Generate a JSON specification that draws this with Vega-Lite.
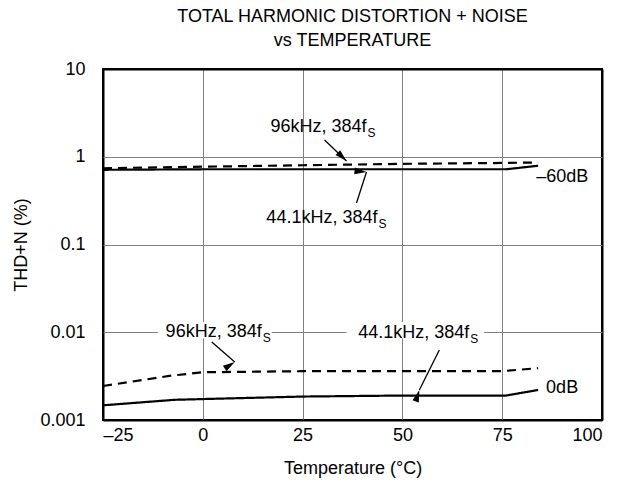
{
  "$schema": "https://vega.github.io/schema/vega-lite/v6.json",
  "width": 499,
  "height": 351,
  "autosize": {"type": "none"},
  "padding": {"left": 103, "top": 69, "right": 16, "bottom": 73},
  "background": "white",
  "config": {
    "font": "Liberation Sans",
    "view": {"stroke": "black", "strokeWidth": 2},
    "axis": {
      "grid": true,
      "gridOpacity": 1,
      "domain": false,
      "ticks": false,
      "tickSize": 0,
      "labelFontSize": 18,
      "labelColor": "black",
      "titleFontSize": 18,
      "titleFontWeight": "normal",
      "titleColor": "black"
    }
  },
  "title": {
    "text": ["TOTAL HARMONIC DISTORTION + NOISE", "vs TEMPERATURE"],
    "fontSize": 18,
    "fontWeight": "normal",
    "color": "black",
    "anchor": "middle",
    "lineHeight": 24,
    "offset": 10
  },
  "datasets": {
    "curves": [
      {"level": "-60dB", "rate": "96kHz", "t": -25, "v": 0.74},
      {"level": "-60dB", "rate": "96kHz", "t": 0, "v": 0.77},
      {"level": "-60dB", "rate": "96kHz", "t": 25, "v": 0.80},
      {"level": "-60dB", "rate": "96kHz", "t": 50, "v": 0.83},
      {"level": "-60dB", "rate": "96kHz", "t": 75, "v": 0.85},
      {"level": "-60dB", "rate": "96kHz", "t": 84, "v": 0.86},
      {"level": "-60dB", "rate": "44.1kHz", "t": -25, "v": 0.71},
      {"level": "-60dB", "rate": "44.1kHz", "t": 0, "v": 0.72},
      {"level": "-60dB", "rate": "44.1kHz", "t": 25, "v": 0.72},
      {"level": "-60dB", "rate": "44.1kHz", "t": 50, "v": 0.72},
      {"level": "-60dB", "rate": "44.1kHz", "t": 76, "v": 0.72},
      {"level": "-60dB", "rate": "44.1kHz", "t": 84, "v": 0.79},
      {"level": "0dB", "rate": "96kHz", "t": -25, "v": 0.00244},
      {"level": "0dB", "rate": "96kHz", "t": -8, "v": 0.0032},
      {"level": "0dB", "rate": "96kHz", "t": 0, "v": 0.0035},
      {"level": "0dB", "rate": "96kHz", "t": 25, "v": 0.0036},
      {"level": "0dB", "rate": "96kHz", "t": 50, "v": 0.0036},
      {"level": "0dB", "rate": "96kHz", "t": 75, "v": 0.0036},
      {"level": "0dB", "rate": "96kHz", "t": 84, "v": 0.0039},
      {"level": "0dB", "rate": "44.1kHz", "t": -25, "v": 0.00147},
      {"level": "0dB", "rate": "44.1kHz", "t": -7, "v": 0.0017},
      {"level": "0dB", "rate": "44.1kHz", "t": 25, "v": 0.00185},
      {"level": "0dB", "rate": "44.1kHz", "t": 50, "v": 0.0019},
      {"level": "0dB", "rate": "44.1kHz", "t": 76, "v": 0.0019},
      {"level": "0dB", "rate": "44.1kHz", "t": 84, "v": 0.0022}
    ],
    "arrows": [
      {"id": "a1", "t": 30.5, "v": 1.55, "t2": 36, "v2": 0.895},
      {"id": "a2", "t": 38.5, "v": 0.297, "t2": 41, "v2": 0.67},
      {"id": "a3", "t": 2.25, "v": 0.00774, "t2": 8, "v2": 0.00458},
      {"id": "a4", "t": 59.25, "v": 0.00628, "t2": 54.25, "v2": 0.0022}
    ],
    "labels": [
      {"main": "96kHz, 384f", "sub": "S", "t": 41, "v": 2.18},
      {"main": "44.1kHz, 384f", "sub": "S", "t": 43.75, "v": 0.2},
      {"main": "96kHz, 384f", "sub": "S", "t": 14.75, "v": 0.0101},
      {"main": "44.1kHz, 384f", "sub": "S", "t": 66.75, "v": 0.0099}
    ],
    "tags": [
      {"text": "–60dB", "t": 83.5, "v": 0.588},
      {"text": "0dB", "t": 86, "v": 0.00232}
    ],
    "boxes": [
      {"t": -11.25, "t2": 17.25, "v": 0.0131, "v2": 0.0085},
      {"t": 36, "t2": 70.5, "v": 0.0131, "v2": 0.0085}
    ]
  },
  "encoding": {
    "x": {
      "field": "t",
      "type": "quantitative",
      "scale": {"domain": [-25, 100], "nice": false, "zero": false},
      "axis": {
        "values": [-25, 0, 25, 50, 75, 100],
        "labelExpr": "datum.value < 0 ? '–' + abs(datum.value) : datum.label",
        "labelPadding": 6,
        "gridColor": {"condition": {"test": "datum.value == -25 || datum.value == 100", "value": "black"}, "value": "#808080"},
        "gridWidth": {"condition": {"test": "datum.value == -25 || datum.value == 100", "value": 2}, "value": 1},
        "title": "Temperature (°C)",
        "titlePadding": 15
      }
    },
    "y": {
      "field": "v",
      "type": "quantitative",
      "scale": {"type": "log", "domain": [0.001, 10], "nice": false},
      "axis": {
        "values": [0.001, 0.01, 0.1, 1, 10],
        "format": "~g",
        "labelPadding": 18,
        "gridColor": {"condition": {"test": "datum.value < 0.002 || datum.value > 5", "value": "black"}, "value": "#808080"},
        "gridWidth": {"condition": {"test": "datum.value < 0.002 || datum.value > 5", "value": 2}, "value": 1},
        "title": "THD+N (%)",
        "titlePadding": 9
      }
    }
  },
  "layer": [
    {
      "data": {"name": "boxes"},
      "mark": {"type": "rect", "fill": "white", "stroke": null},
      "encoding": {"x2": {"field": "t2"}, "y2": {"field": "v2"}}
    },
    {
      "data": {"name": "curves"},
      "mark": {"type": "line", "color": "black", "strokeWidth": 2.2},
      "encoding": {
        "detail": {"field": "level"},
        "strokeDash": {
          "field": "rate",
          "type": "nominal",
          "scale": {"domain": ["96kHz", "44.1kHz"], "range": [[9, 6], [1, 0]]},
          "legend": null
        }
      }
    },
    {
      "data": {"name": "arrows"},
      "mark": {"type": "rule", "color": "black", "strokeWidth": 1.3},
      "encoding": {"x2": {"field": "t2"}, "y2": {"field": "v2"}}
    },
    {
      "data": {"name": "arrows"},
      "mark": {"type": "point", "shape": "M0,0L-0.55,2L0.55,2Z", "filled": true, "color": "black", "size": 144, "opacity": 1},
      "encoding": {
        "x": {"field": "t2", "type": "quantitative"},
        "y": {"field": "v2", "type": "quantitative"},
        "angle": {
          "field": "id",
          "type": "ordinal",
          "scale": {"domain": ["a1", "a2", "a3", "a4"], "range": [134, 18, 131, 207]},
          "legend": null
        }
      }
    },
    {
      "data": {"name": "labels"},
      "mark": {"type": "text", "align": "right", "baseline": "middle", "fontSize": 18, "color": "black"},
      "encoding": {"text": {"field": "main"}}
    },
    {
      "data": {"name": "labels"},
      "mark": {"type": "text", "align": "left", "baseline": "middle", "fontSize": 12, "dx": 1, "dy": 6, "color": "black"},
      "encoding": {"text": {"field": "sub"}}
    },
    {
      "data": {"name": "tags"},
      "mark": {"type": "text", "align": "left", "baseline": "middle", "fontSize": 18, "color": "black"},
      "encoding": {"text": {"field": "text"}}
    }
  ]
}
